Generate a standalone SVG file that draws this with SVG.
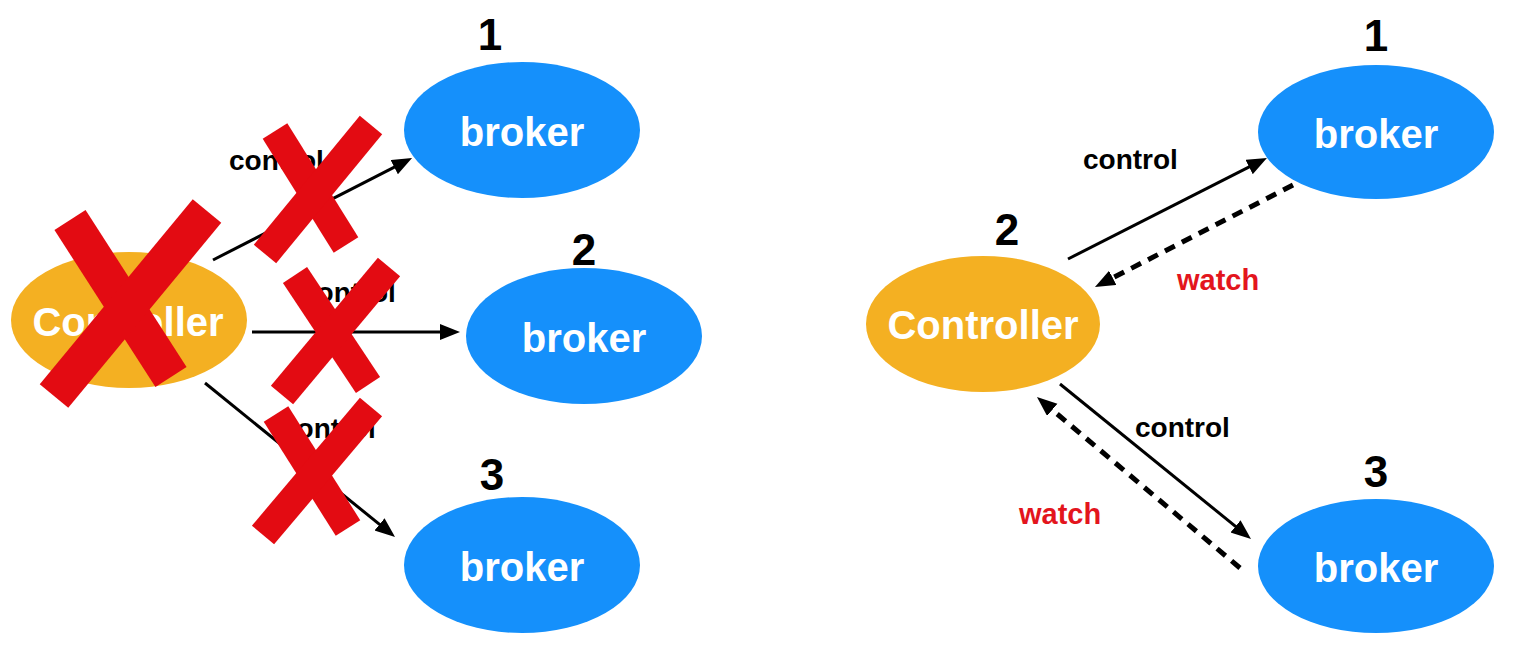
<svg xmlns="http://www.w3.org/2000/svg" width="1540" height="652" viewBox="0 0 1540 652">
<style>
  .broker { fill: #1590FB; }
  .ctrl { fill: #F4B022; }
  .nodetext { font-family: "Liberation Sans", Arial, sans-serif; font-weight: bold; font-size: 40px; fill: #FFFFFF; text-anchor: middle; }
  .num { font-family: "Liberation Sans", Arial, sans-serif; font-weight: bold; font-size: 44px; fill: #000000; text-anchor: middle; }
  .lbl { font-family: "Liberation Sans", Arial, sans-serif; font-weight: bold; font-size: 28px; fill: #000000; }
  .watch { font-family: "Liberation Sans", Arial, sans-serif; font-weight: bold; font-size: 29px; fill: #E3151D; }
  .solid { stroke: #000000; stroke-width: 3; fill: none; marker-end: url(#ah); }
  .dashed { stroke: #000000; stroke-width: 5; fill: none; stroke-dasharray: 11 8; marker-end: url(#ah); }
  .x { stroke: #E30B12; fill: none; stroke-linecap: butt; }
</style>
<defs>
  <marker id="ah" markerUnits="userSpaceOnUse" markerWidth="22" markerHeight="18" refX="4" refY="8" orient="auto">
    <path d="M0,0 L20,8 L0,16 Z" fill="#000000"/>
  </marker>
</defs>
<rect width="1540" height="652" fill="#FFFFFF"/>

<!-- LEFT DIAGRAM -->
<g id="left-controller">
  <ellipse class="ctrl" cx="129" cy="320" rx="118" ry="68"/>
  <text class="nodetext" x="128" y="336">Controller</text>
</g>
<g id="left-broker1">
  <text class="num" x="490" y="50">1</text>
  <ellipse class="broker" cx="522" cy="130" rx="118" ry="68"/>
  <text class="nodetext" x="522" y="146">broker</text>
</g>
<g id="left-broker2">
  <text class="num" x="584" y="265">2</text>
  <ellipse class="broker" cx="584" cy="336" rx="118" ry="68"/>
  <text class="nodetext" x="584" y="352">broker</text>
</g>
<g id="left-broker3">
  <text class="num" x="492" y="490">3</text>
  <ellipse class="broker" cx="522" cy="565" rx="118" ry="68"/>
  <text class="nodetext" x="522" y="581">broker</text>
</g>
<g id="left-connectors">
  <line class="solid" x1="213" y1="260" x2="397.8" y2="165.3"/>
  <line class="solid" x1="252" y1="332" x2="444" y2="332"/>
  <line class="solid" x1="205" y1="383" x2="382.6" y2="526.9"/>
  <text class="lbl" x="229" y="170">control</text>
  <text class="lbl" x="301" y="302">control</text>
  <text class="lbl" x="281" y="438">control</text>
</g>
<g id="crosses">
  <line class="x" stroke-width="37" x1="70" y1="220" x2="171" y2="377"/>
  <line class="x" stroke-width="37" x1="207" y1="211" x2="54" y2="396"/>
  <line class="x" stroke-width="29" x1="275" y1="131" x2="346" y2="245"/>
  <line class="x" stroke-width="29" x1="371" y1="125" x2="265" y2="254"/>
  <line class="x" stroke-width="29" x1="295" y1="275" x2="368" y2="385"/>
  <line class="x" stroke-width="29" x1="389" y1="267" x2="282" y2="395"/>
  <line class="x" stroke-width="29" x1="276" y1="414" x2="348" y2="528"/>
  <line class="x" stroke-width="29" x1="371" y1="407" x2="263" y2="535"/>
</g>

<!-- RIGHT DIAGRAM -->
<g id="right-controller">
  <text class="num" x="1007" y="245">2</text>
  <ellipse class="ctrl" cx="983" cy="324" rx="117" ry="68"/>
  <text class="nodetext" x="983" y="339">Controller</text>
</g>
<g id="right-broker1">
  <text class="num" x="1376" y="51">1</text>
  <ellipse class="broker" cx="1376" cy="132" rx="118" ry="67"/>
  <text class="nodetext" x="1376" y="148">broker</text>
</g>
<g id="right-broker3">
  <text class="num" x="1376" y="487">3</text>
  <ellipse class="broker" cx="1376" cy="566" rx="118" ry="67"/>
  <text class="nodetext" x="1376" y="582">broker</text>
</g>
<g id="right-connectors">
  <line class="solid" x1="1068" y1="259" x2="1252.7" y2="165.2"/>
  <line class="dashed" x1="1293" y1="185" x2="1109.2" y2="279.7"/>
  <line class="solid" x1="1060" y1="384" x2="1238.6" y2="528.9"/>
  <line class="dashed" x1="1240" y1="568" x2="1049.2" y2="407.3"/>
  <text class="lbl" x="1083" y="169">control</text>
  <text class="watch" x="1177" y="290">watch</text>
  <text class="lbl" x="1135" y="437">control</text>
  <text class="watch" x="1019" y="524">watch</text>
</g>
</svg>
